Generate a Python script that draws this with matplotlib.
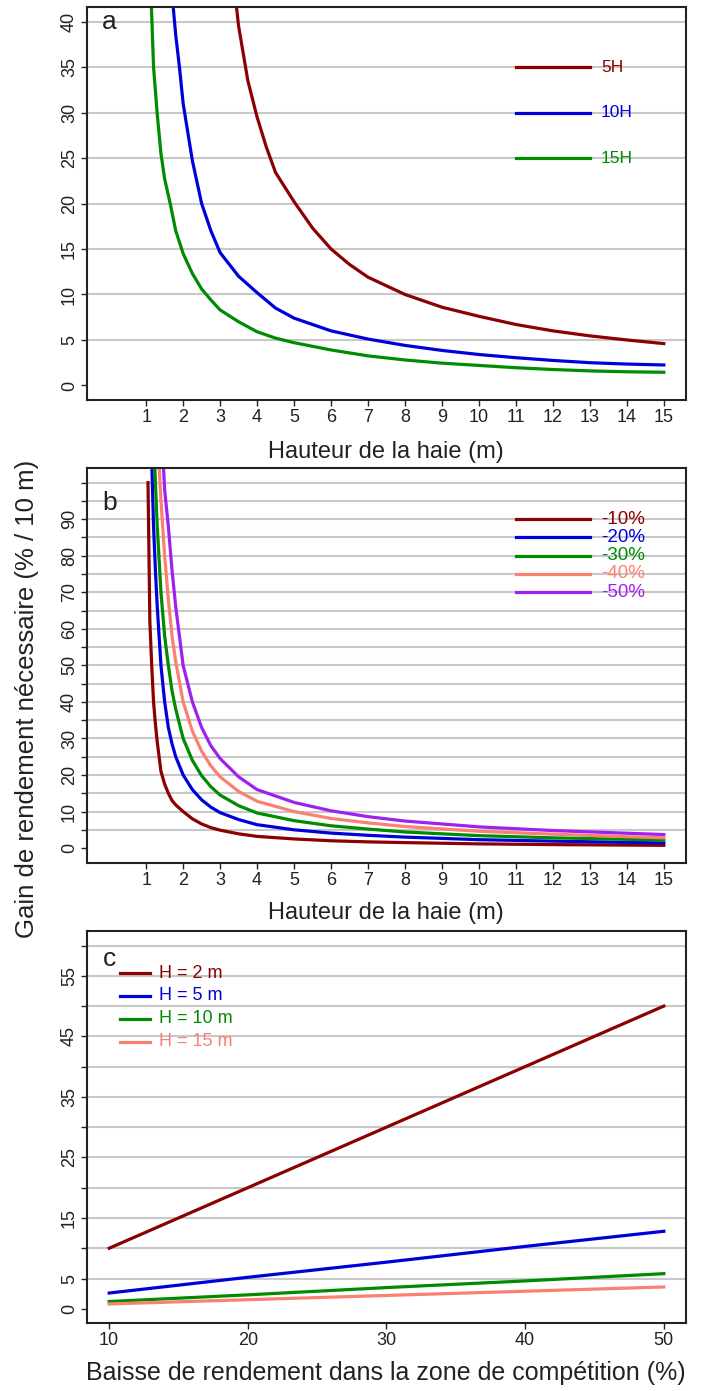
import matplotlib
matplotlib.use("Agg")
import matplotlib.pyplot as plt

plt.rcParams['font.family'] = ['Liberation Sans', 'DejaVu Sans']

# ---------------- data ----------------
# panel a : required gain vs hedge height, for protected zone 5H / 10H / 15H
h_5H = [3.35, 3.5, 3.75, 4.0, 4.25, 4.5, 5.0, 5.5, 6.0, 6.5, 7.0, 8.0, 9.0, 10, 11, 12, 13, 14, 15]
gain_5H = [45, 39.5, 33.5, 29.5, 26.2, 23.4, 20.2, 17.3, 15.0, 13.3, 11.9, 10.0, 8.6, 7.6, 6.7, 6.0, 5.45, 5.0, 4.6]
h_10H = [1.7, 1.8, 1.9, 2.0, 2.25, 2.5, 2.75, 3.0, 3.5, 4.0, 4.5, 5.0, 6.0, 7.0, 8.0, 9.0, 10, 11, 12, 13, 14, 15]
gain_10H = [43, 38.5, 35, 31, 24.7, 20, 17, 14.6, 12.0, 10.2, 8.5, 7.4, 6.0, 5.1, 4.4, 3.85, 3.4, 3.05, 2.75, 2.5, 2.35, 2.25]
h_15H = [1.13, 1.2, 1.3, 1.4, 1.5, 1.65, 1.8, 2.0, 2.25, 2.5, 2.75, 3.0, 3.5, 4.0, 4.5, 5.0, 6.0, 7.0, 8.0, 9.0, 10, 11, 12, 13, 14, 15]
gain_15H = [43, 35, 29.8, 25.5, 22.7, 20, 17, 14.5, 12.3, 10.6, 9.4, 8.3, 7.0, 5.9, 5.2, 4.7, 3.9, 3.25, 2.8, 2.45, 2.2, 1.95, 1.75, 1.6, 1.5, 1.45]
labels_a = ["5H", "10H", "15H"]

# panel b : required gain vs hedge height, for yield loss -10% ... -50%
h_b = [1.05, 1.1, 1.15, 1.2, 1.25, 1.3, 1.4, 1.5, 1.6, 1.7, 1.8, 2.0, 2.25, 2.5, 2.75, 3.0,
       3.5, 4.0, 5.0, 6.0, 7.0, 8.0, 10, 12, 15]
gain_m10 = [100, 62, 50, 40, 34, 29, 21, 17.5, 15, 13, 11.8, 10, 8.0, 6.6, 5.6, 4.9,
            3.9, 3.2, 2.5, 2.0, 1.7, 1.5, 1.15, 0.95, 0.75]
gain_m20 = [160, 125, 106, 88, 76, 66, 50, 40, 33, 28.5, 25, 20, 16, 13.2, 11.2, 9.7,
            7.8, 6.4, 5.0, 4.1, 3.5, 3.0, 2.3, 1.9, 1.4]
gain_m30 = [240, 190, 150, 115, 100, 88, 70, 58, 50, 43, 38, 30, 24, 19.8, 16.8, 14.5,
            11.6, 9.6, 7.5, 6.1, 5.2, 4.4, 3.4, 2.8, 2.2]
gain_m40 = [320, 250, 200, 170, 140, 115, 95, 80, 68, 58, 51, 40, 32, 26.5, 22.5, 19.5,
            15.5, 12.8, 10.0, 8.1, 6.9, 5.9, 4.6, 3.8, 2.8]
gain_m50 = [400, 320, 260, 220, 185, 160, 118, 98, 88, 76, 66, 50, 40, 33, 28, 24.5,
            19.5, 16.0, 12.5, 10.2, 8.6, 7.4, 5.8, 4.8, 3.7]
labels_b = ["-10%", "-20%", "-30%", "-40%", "-50%"]

# panel c : required gain vs yield loss in competition zone, for several heights
loss_c = [10, 20, 30, 40, 50]
gain_H2 = [10, 20, 30, 40, 50]
gain_H5 = [2.6, 5.2, 7.7, 10.3, 12.8]
gain_H10 = [1.2, 2.3, 3.5, 4.6, 5.8]
gain_H15 = [0.8, 1.5, 2.2, 2.9, 3.6]
labels_c = ["H = 2 m", "H = 5 m", "H = 10 m", "H = 15 m"]

# ---------------- style ----------------
DARKRED = "#8B0000"
BLUE = "#0000DD"
GREEN = "#008B00"
SALMON = "#FA8072"
PURPLE = "#A020F0"
GRID = "#C8C8C8"
LW = 2.3

W, H = 701, 1391
fig = plt.figure(figsize=(W / 100, H / 100), dpi=100)


def make_ax(top, bottom):
    return fig.add_axes([87 / W, 1 - bottom / H, (686 - 87) / W, (bottom - top) / H])


axA = make_ax(7, 400)
axB = make_ax(468, 862.7)
axC = make_ax(931, 1323.3)


def style(ax):
    for s in ax.spines.values():
        s.set_linewidth(1.5)
        s.set_color("#222222")
    ax.tick_params(axis='both', direction='out', length=4.5, width=1.0, color="#222222",
                   labelsize=13, pad=2, labelcolor="#222222")
    ax.tick_params(axis='y', labelrotation=90)
    for lab in ax.get_yticklabels():
        lab.set_va('center')


# ---- panel a ----
for y in range(5, 45, 5):
    axA.axhline(y, color=GRID, lw=1.5, zorder=0)
axA.plot(h_5H, gain_5H, color=DARKRED, lw=LW)
axA.plot(h_10H, gain_10H, color=BLUE, lw=LW)
axA.plot(h_15H, gain_15H, color=GREEN, lw=LW)
axA.set_xlim(-0.6, 15.6)
axA.set_ylim(-1.6, 41.6)
axA.set_xticks(range(1, 16))
axA.set_yticks(range(0, 45, 5))
for lab, col, yv in zip(labels_a, [DARKRED, BLUE, GREEN], [35, 30, 25]):
    axA.plot([11, 13], [yv, yv], color=col, lw=LW)
    axA.text(13.3, yv, lab, color=col, fontsize=12.5, va='center', ha='left')
axA.text(0.0, 40, "a", fontsize=19, ha='center', va='center', color="#222222")
style(axA)

# ---- panel b ----
for y in range(5, 105, 5):
    axB.axhline(y, color=GRID, lw=1.5, zorder=0)
cols_b = [DARKRED, BLUE, GREEN, SALMON, PURPLE]
series_b = [gain_m10, gain_m20, gain_m30, gain_m40, gain_m50]
for vals, col in zip(series_b, cols_b):
    axB.plot(h_b, vals, color=col, lw=LW)
axB.set_xlim(-0.6, 15.6)
axB.set_ylim(-4, 104)
axB.set_xticks(range(1, 16))
axB.set_yticks(range(0, 105, 5))
axB.set_yticklabels([str(v) if (v % 10 == 0 and v < 100) else "" for v in range(0, 105, 5)])
for lab, col, yv in zip(labels_b, cols_b, [90, 85, 80, 75, 70]):
    axB.plot([11, 13], [yv, yv], color=col, lw=LW)
    axB.text(13.3, yv, lab, color=col, fontsize=13.5, va='center', ha='left')
axB.text(0.0, 94.5, "b", fontsize=19, ha='center', va='center', color="#222222")
style(axB)

# ---- panel c ----
for y in range(5, 65, 5):
    axC.axhline(y, color=GRID, lw=1.5, zorder=0)
cols_c = [DARKRED, BLUE, GREEN, SALMON]
series_c = [gain_H2, gain_H5, gain_H10, gain_H15]
for vals, col in zip(series_c, cols_c):
    axC.plot(loss_c, vals, color=col, lw=LW)
axC.set_xlim(8.4, 51.6)
axC.set_ylim(-2.4, 62.4)
axC.set_xticks([10, 20, 30, 40, 50])
axC.set_yticks(range(0, 65, 5))
axC.set_yticklabels([str(v) if v in (0, 5, 15, 25, 35, 45, 55) else "" for v in range(0, 65, 5)])
for lab, col, yv in zip(labels_c, cols_c, [55.4, 51.7, 47.9, 44.1]):
    axC.plot([10.8, 12.95], [yv, yv], color=col, lw=LW)
    axC.text(13.6, yv, lab, color=col, fontsize=13, va='center', ha='left')
axC.text(10.0, 57.8, "c", fontsize=19, ha='center', va='center', color="#222222")
style(axC)

# ---- axis titles ----
fig.text(386 / W, 1 - 451.7 / H, "Hauteur de la haie (m)", fontsize=17, ha='center', va='center', color="#222222")
fig.text(386 / W, 1 - 913 / H, "Hauteur de la haie (m)", fontsize=17, ha='center', va='center', color="#222222")
fig.text(386 / W, 1 - 1373 / H, "Baisse de rendement dans la zone de compétition (%)", fontsize=18,
         ha='center', va='center', color="#222222")
fig.text(27 / W, 1 - 699 / H, "Gain de rendement nécessaire (% / 10 m)", fontsize=18.5, rotation=90,
         ha='center', va='center', color="#222222")

fig.savefig("out.png", dpi=100)
